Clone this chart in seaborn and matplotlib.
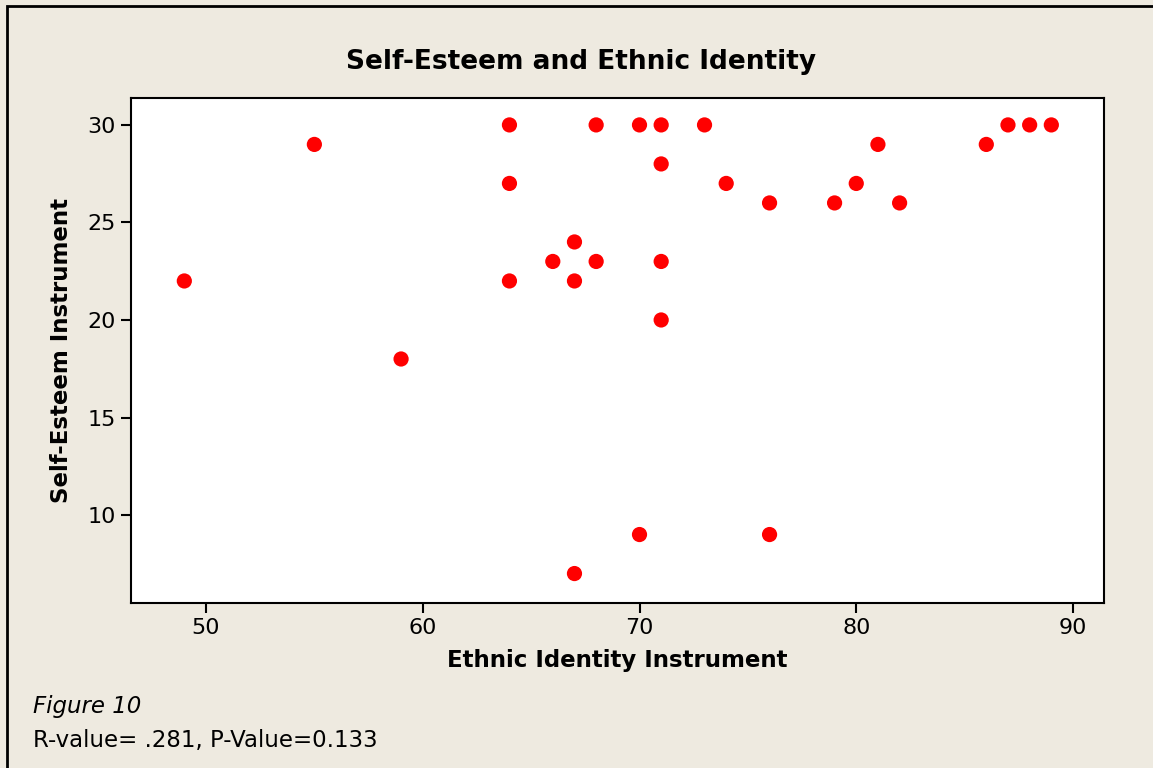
import pandas as pd
import matplotlib.pyplot as plt
import matplotlib.patches as mpatches
import seaborn as sns

sns.set_style("white")
plt.rcParams["font.family"] = ["DejaVu Sans"]
plt.rcParams["text.color"] = "black"
plt.rcParams["axes.labelcolor"] = "black"
plt.rcParams["xtick.color"] = "black"
plt.rcParams["ytick.color"] = "black"

# values
ethnic_identity = [49, 55, 59, 64, 64, 64, 66, 67, 67, 67, 68, 68, 70, 70, 71, 71, 71, 71,
                   73, 74, 76, 76, 79, 80, 81, 82, 86, 87, 88, 89]
self_esteem = [22, 29, 18, 30, 27, 22, 23, 24, 22, 7, 30, 23, 30, 9, 30, 28, 23, 20,
               30, 27, 26, 9, 26, 27, 29, 26, 29, 30, 30, 30]
x_ticks = [50, 60, 70, 80, 90]
y_ticks = [10, 15, 20, 25, 30]

df = pd.DataFrame({"Ethnic Identity Instrument": ethnic_identity,
                   "Self-Esteem Instrument": self_esteem})

bg = "#EEEAE0"
fig = plt.figure(figsize=(11.53, 7.68), dpi=100)
fig.patch.set_facecolor(bg)

# outer frame
frame = mpatches.Rectangle((7 / 1153, -0.05), 1.1, 1 - 6 / 768 + 0.05,
                           transform=fig.transFigure, fill=False,
                           edgecolor="black", linewidth=2, clip_on=False)
fig.patches.append(frame)

ax = fig.add_axes([131 / 1153, 1 - 603 / 768, (1104 - 131) / 1153, (603 - 98) / 768])
ax.set_facecolor("white")
sns.scatterplot(data=df, x="Ethnic Identity Instrument", y="Self-Esteem Instrument",
                color="red", s=120, edgecolor="none", ax=ax)

ax.set_xlim(46.54, 91.43)
ax.set_ylim(5.49, 31.38)
ax.set_xticks(x_ticks)
ax.set_yticks(y_ticks)
ax.tick_params(axis="both", which="major", direction="out", length=7, width=1.5,
               color="black", labelcolor="black", labelsize=16, pad=4,
               bottom=True, left=True)
for side in ax.spines.values():
    side.set_visible(True)
    side.set_color("black")
    side.set_linewidth(1.5)

ax.set_xlabel("Ethnic Identity Instrument", fontsize=16.5, fontweight="bold",
              labelpad=8, color="black")
ax.set_ylabel("Self-Esteem Instrument", fontsize=16.5, fontweight="bold",
              labelpad=10, color="black")

fig.text(581 / 1153, 1 - 62 / 768, "Self-Esteem and Ethnic Identity",
         ha="center", va="center", fontsize=19, fontweight="bold", color="black")
fig.text(33 / 1153, 1 - 706 / 768, "Figure 10", ha="left", va="center",
         fontsize=16.5, style="italic", color="black")
fig.text(33 / 1153, 1 - 741 / 768, "R-value= .281, P-Value=0.133", ha="left",
         va="center", fontsize=16.5, color="black")

fig.savefig("out.png", dpi=100, facecolor=bg)
